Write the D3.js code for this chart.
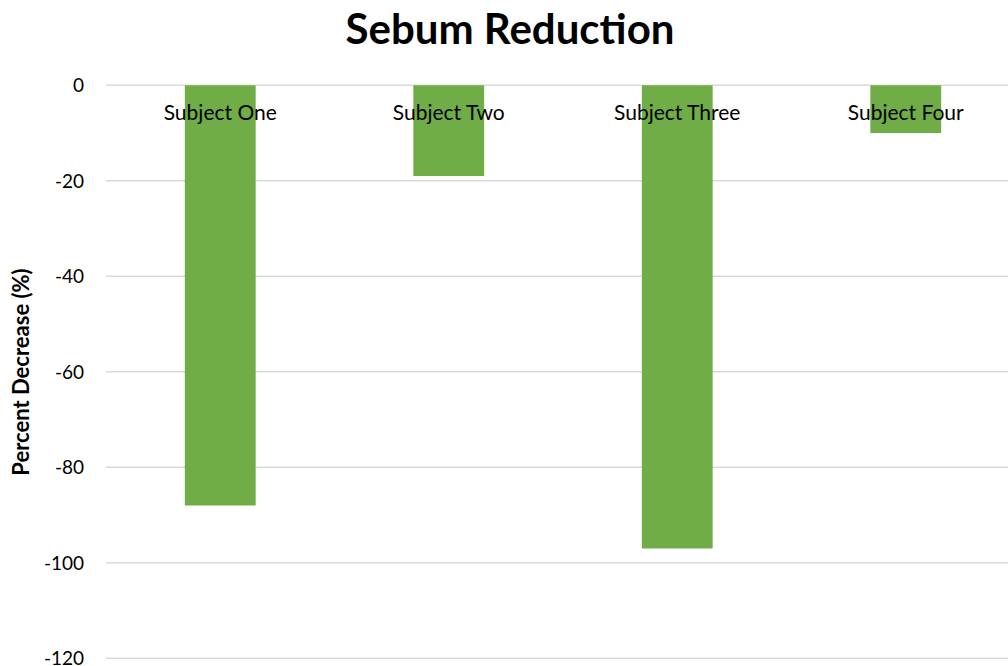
<!DOCTYPE html>
<html><head><meta charset="utf-8">
<script src="https://cdn.jsdelivr.net/npm/d3@7"></script>
<style>body{margin:0;background:#fff}svg{display:block}text{font-family:Lato,"Open Sans",sans-serif}</style>
</head><body><svg id="c" width="1008" height="666"></svg>
<script>
const categories = ["Subject One","Subject Two","Subject Three","Subject Four"];
const values = [-88, -19, -97, -10];
const yTicks = [0,-20,-40,-60,-80,-100,-120];
const title = "Sebum Reduction";
const yTitle = "Percent Decrease (%)";

const svg = d3.select("#c");
const W = 1008, H = 666;
const m = {left:106, right:-12, top:85.3, bottom:666-658.3};
const x = d3.scaleBand().domain(categories).range([m.left, W - m.right]).paddingInner(0.69).paddingOuter(0.345);
const y = d3.scaleLinear().domain([0,-120]).range([m.top, H - m.bottom]);

svg.append("g").selectAll("line").data(yTicks).join("line")
  .attr("x1", m.left).attr("x2", W).attr("y1", d=>y(d)).attr("y2", d=>y(d))
  .attr("stroke","#d9d9d9").attr("stroke-width",1.5);

svg.append("g").selectAll("rect").data(values).join("rect")
  .attr("x",(d,i)=>x(categories[i])).attr("width",x.bandwidth())
  .attr("y",y(0)).attr("height",d=>y(d)-y(0)).attr("fill","#70ad47");

const ax = d3.axisLeft(y).tickValues(yTicks).tickSize(0).tickPadding(0).tickFormat(d=>String(d));
const g = svg.append("g").attr("transform","translate(84,0)").call(ax);
g.select(".domain").remove();
g.selectAll("text").attr("font-size",19).attr("fill","#000").attr("font-family","Lato,sans-serif").attr("dy","0.35em");

svg.append("g").selectAll("text").data(categories).join("text")
  .attr("x",d=>x(d)+x.bandwidth()/2).attr("y",120).attr("text-anchor","middle")
  .attr("font-size",21).attr("fill","#000").text(d=>d);

svg.append("text").attr("x",510).attr("y",44).attr("text-anchor","middle")
  .attr("font-size",42).attr("font-weight","bold").attr("fill","#000").text(title);

svg.append("text").attr("transform","translate(29,372) rotate(-90)").attr("text-anchor","middle")
  .attr("font-size",22).attr("font-weight","bold").attr("fill","#000").text(yTitle);
</script></body></html>
